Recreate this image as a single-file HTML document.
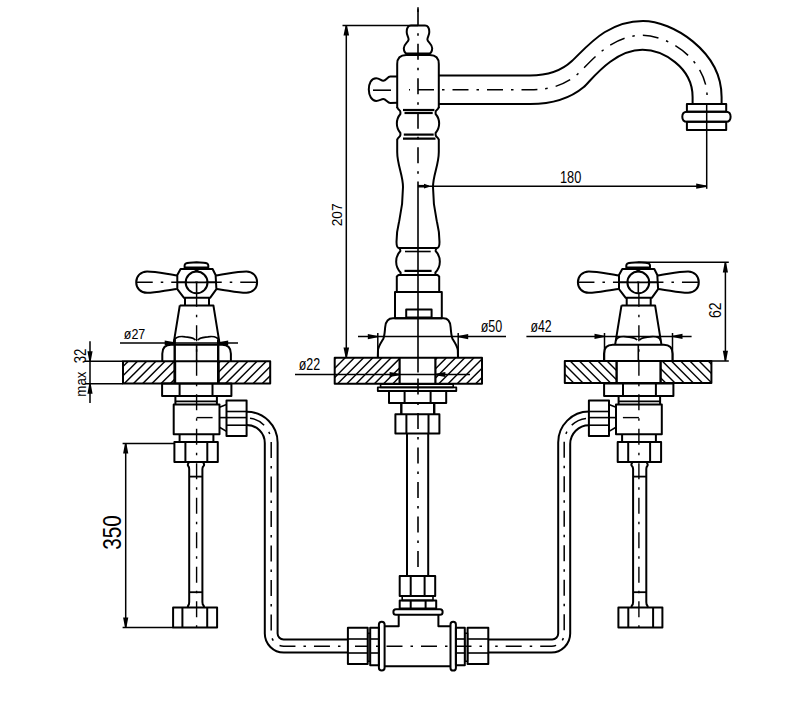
<!DOCTYPE html>
<html><head><meta charset="utf-8"><style>
html,body{margin:0;padding:0;background:#fff;}
svg{display:block;}
text{font-family:"Liberation Sans",sans-serif;fill:#000;stroke:none;}
</style></head><body>
<svg width="800" height="709" viewBox="0 0 800 709" stroke="#000" stroke-linecap="butt" stroke-linejoin="round" fill="none">
<rect x="0" y="0" width="800" height="709" fill="#fff" stroke="none"/>
<path d="M411,25.4 L425,25.4 C428,25.4 429.3,28.5 429.3,32 C429.3,35.5 427.4,37 427.4,39.5 C427.4,42 432.2,44 432.2,48.3 C432.2,51.5 430.5,53.6 429.3,53.6 L406.7,53.6 C405.5,53.6 403.8,51.5 403.8,48.3 C403.8,44 408.6,42 408.6,39.5 C408.6,37 406.7,35.5 406.7,32 C406.7,28.5 408,25.4 411,25.4 Z" stroke-width="2.0" fill="none" />
<path d="M397.2,108 L397.2,64 Q397.2,55 406.2,55 L429.8,55 Q438.8,55 438.8,64 L438.8,108" stroke-width="2.0" fill="none" />
<path d="M397.2,107 C397.2,109.5 400.4,110 400.4,112 L400.4,114 A14.5,14.5 0 0 0 400.4,133 L400.4,135 C400.4,137 397.2,137.5 397.2,140" stroke-width="2.0" fill="none" />
<path d="M438.8,107 C438.8,109.5 435.6,110 435.6,112 L435.6,114 A14.5,14.5 0 0 1 435.6,133 L435.6,135 C435.6,137 438.8,137.5 438.8,140" stroke-width="2.0" fill="none" />
<line x1="403" y1="110" x2="434.4" y2="110" stroke-width="2.2" />
<line x1="404.5" y1="113" x2="432.7" y2="113" stroke-width="2.2" />
<line x1="403.8" y1="134.6" x2="433.7" y2="134.6" stroke-width="2.2" />
<line x1="403" y1="138.6" x2="435.5" y2="138.6" stroke-width="2.2" />
<path d="M397.2,139.5 L397.2,152 C397.2,165 403.0,175 403.0,187 C403.0,205 400.5,215 399.0,222 C397.0,230 396.5,236 396.5,242 Q396.5,248 399.0,248" stroke-width="2.0" fill="none" />
<path d="M438.8,139.5 L438.8,152 C438.8,165 433.0,175 433.0,187 C433.0,205 435.5,215 437.0,222 C439.0,230 439.5,236 439.5,242 Q439.5,248 437.0,248" stroke-width="2.0" fill="none" />
<line x1="398.5" y1="248" x2="437.5" y2="248" stroke-width="2.2" />
<path d="M399.0,248 C400.2,248.5 400.4,249.5 400.4,251 A15.5,15.5 0 0 0 400.6,272.5 L400.6,275" stroke-width="2.0" fill="none" />
<path d="M437.0,248 C435.8,248.5 435.6,249.5 435.6,251 A15.5,15.5 0 0 1 435.4,272.5 L435.4,275" stroke-width="2.0" fill="none" />
<line x1="405" y1="251.5" x2="430.7" y2="251.5" stroke-width="1.6" />
<line x1="404.5" y1="270.9" x2="431.6" y2="270.9" stroke-width="2.2" />
<path d="M398.5,275 L396.8,276.5 L396.8,292 L439.2,292 L439.2,276.5 L437.5,275 Z" stroke-width="2.0" fill="none" />
<rect x="395" y="292" width="46.8" height="26.2" stroke-width="2.0" fill="none" />
<rect x="406.2" y="309.6" width="25.4" height="7.8" stroke-width="2.0" fill="none" />
<path d="M377.8,357.6 L378,350 C378.5,346 381.5,342 383.2,339 C384.6,336 384.6,333 385.2,327 Q386,318.2 393,318.2 L443.5,318.2 Q450,318.2 450.6,327 C451.2,333 451.2,336 452.6,339 C454.3,342 457.3,346 457.8,350 L458,357.6" stroke-width="2.0" fill="none" />
<line x1="418.0" y1="7.2" x2="418.0" y2="12" stroke-width="1.6" />
<line x1="418.0" y1="9.25" x2="418.0" y2="181.5" stroke-width="1.6" stroke-dasharray="16 8 2.5 8" stroke-dashoffset="0"/>
<line x1="418.0" y1="181.5" x2="418.0" y2="372.5" stroke-width="1.6" />
<line x1="418.0" y1="378.5" x2="418.0" y2="576" stroke-width="1.6" stroke-dasharray="16 8 2.5 8" stroke-dashoffset="0"/>
<path d="M397.2,76.6 L390.3,76.6 C387.5,76.6 386,80.8 383.3,80.8 C381,80.8 379.5,78.3 376.2,78.3 C371,78.3 368.8,84 368.8,89.6 C368.8,96 372,100.9 376.2,100.9 C379.5,100.9 381,99.1 383.3,99.1 C386,99.1 387.5,103 390.3,103 L397.2,102.7" stroke-width="2.0" fill="none" />
<line x1="373" y1="90.2" x2="391" y2="90.2" stroke-width="1.6" />
<path d="M438.8,75.6 L530,75.6 C539.7,75.6 557.4,74.8 571.9,61.1 C587,46.9 606.8,20.9 643,20.9 C671.7,20.9 721.6,50.8 721.6,97 L721.6,104" stroke-width="2.0" fill="none" />
<path d="M438.8,104 L530,104 C538.3,104 563.3,104.2 583.8,87 C590.4,81.4 612.8,49.8 642.5,49.8 C662.4,49.8 692.6,66.9 692.6,97 L692.6,104" stroke-width="2.0" fill="none" />
<path d="M409,89.8 L530,89.8 C539,89.8 560.3,89.5 577.8,74 C588.7,64.2 609.8,35.3 642.7,35.3 C667,35.3 707.1,58.8 707.1,97 L707.1,104" stroke-width="1.5" fill="none" stroke-dasharray="16 8 2.5 8" stroke-dashoffset="-9"/>
<rect x="686.9" y="104" width="39.3" height="7.7" stroke-width="2.0" fill="none" />
<path d="M686.9,111.7 L726.2,111.7 Q730.6,111.7 730.6,116.75 Q730.6,121.8 726.2,121.8 L686.9,121.8 Q682.3,121.8 682.3,116.75 Q682.3,111.7 686.9,111.7 Z" stroke-width="2.0" fill="none" />
<rect x="686.9" y="121.8" width="39.3" height="8.2" stroke-width="2.0" fill="none" />
<line x1="706.7" y1="104" x2="706.7" y2="188.8" stroke-width="1.5" />
<line x1="342.5" y1="25.4" x2="418" y2="25.4" stroke-width="1.5" />
<line x1="346.3" y1="25.4" x2="346.3" y2="357.8" stroke-width="1.5" />
<path d="M347.00,25.60 L349.10,35.60 L343.50,35.60 L345.60,25.60 Z" fill="#000" stroke="none"/>
<path d="M345.60,357.60 L343.50,347.60 L349.10,347.60 L347.00,357.60 Z" fill="#000" stroke="none"/>
<text x="0" y="0" font-size="15.49" transform="translate(341.85,226.29) rotate(-90) scale(0.888,1)">207</text>
<line x1="418" y1="186.2" x2="706.2" y2="186.2" stroke-width="1.5" />
<line x1="418" y1="186.2" x2="426" y2="186.2" stroke-width="2.6" />
<path d="M429.00,186.90 L424.00,188.60 L424.00,183.80 L429.00,185.50 Z" fill="#000" stroke="none"/>
<path d="M706.20,186.90 L696.20,188.80 L696.20,183.60 L706.20,185.50 Z" fill="#000" stroke="none"/>
<text x="0" y="0" font-size="16.34" transform="translate(559.94,182.54) scale(0.783,1)">180</text>
<line x1="358" y1="336.6" x2="506" y2="336.6" stroke-width="1.5" />
<line x1="377.8" y1="333" x2="377.8" y2="357.6" stroke-width="1.5" />
<line x1="458.2" y1="333" x2="458.2" y2="357.6" stroke-width="1.5" />
<path d="M377.80,337.30 L367.80,339.20 L367.80,334.00 L377.80,335.90 Z" fill="#000" stroke="none"/>
<path d="M458.20,335.90 L468.20,334.00 L468.20,339.20 L458.20,337.30 Z" fill="#000" stroke="none"/>
<text x="0" y="0" font-size="15.83" transform="translate(480.69,331.98) scale(0.791,1)">ø50</text>
<line x1="295" y1="374.5" x2="470" y2="374.5" stroke-width="1.5" />
<path d="M399.60,375.20 L389.60,377.10 L389.60,371.90 L399.60,373.80 Z" fill="#000" stroke="none"/>
<path d="M435.40,373.80 L445.40,371.90 L445.40,377.10 L435.40,375.20 Z" fill="#000" stroke="none"/>
<text x="0" y="0" font-size="17.22" transform="translate(298.69,370.26) scale(0.725,1)">ø22</text>
<clipPath id="c52"><rect x="334.7" y="357.8" width="64.90000000000003" height="26.0"/></clipPath>
<g clip-path="url(#c52)">
<line x1="317.60" y1="357.8" x2="291.60" y2="383.8" stroke-width="1.4"/>
<line x1="326.80" y1="357.8" x2="300.80" y2="383.8" stroke-width="1.4"/>
<line x1="336.00" y1="357.8" x2="310.00" y2="383.8" stroke-width="1.4"/>
<line x1="345.20" y1="357.8" x2="319.20" y2="383.8" stroke-width="1.4"/>
<line x1="354.40" y1="357.8" x2="328.40" y2="383.8" stroke-width="1.4"/>
<line x1="363.60" y1="357.8" x2="337.60" y2="383.8" stroke-width="1.4"/>
<line x1="372.80" y1="357.8" x2="346.80" y2="383.8" stroke-width="1.4"/>
<line x1="382.00" y1="357.8" x2="356.00" y2="383.8" stroke-width="1.4"/>
<line x1="391.20" y1="357.8" x2="365.20" y2="383.8" stroke-width="1.4"/>
<line x1="400.40" y1="357.8" x2="374.40" y2="383.8" stroke-width="1.4"/>
<line x1="409.60" y1="357.8" x2="383.60" y2="383.8" stroke-width="1.4"/>
<line x1="418.80" y1="357.8" x2="392.80" y2="383.8" stroke-width="1.4"/>
<line x1="428.00" y1="357.8" x2="402.00" y2="383.8" stroke-width="1.4"/>
</g>
<clipPath id="c68"><rect x="435.4" y="357.8" width="46.60000000000002" height="26.0"/></clipPath>
<g clip-path="url(#c68)">
<line x1="345.20" y1="357.8" x2="319.20" y2="383.8" stroke-width="1.4"/>
<line x1="354.40" y1="357.8" x2="328.40" y2="383.8" stroke-width="1.4"/>
<line x1="363.60" y1="357.8" x2="337.60" y2="383.8" stroke-width="1.4"/>
<line x1="372.80" y1="357.8" x2="346.80" y2="383.8" stroke-width="1.4"/>
<line x1="382.00" y1="357.8" x2="356.00" y2="383.8" stroke-width="1.4"/>
<line x1="391.20" y1="357.8" x2="365.20" y2="383.8" stroke-width="1.4"/>
<line x1="400.40" y1="357.8" x2="374.40" y2="383.8" stroke-width="1.4"/>
<line x1="409.60" y1="357.8" x2="383.60" y2="383.8" stroke-width="1.4"/>
<line x1="418.80" y1="357.8" x2="392.80" y2="383.8" stroke-width="1.4"/>
<line x1="428.00" y1="357.8" x2="402.00" y2="383.8" stroke-width="1.4"/>
<line x1="437.20" y1="357.8" x2="411.20" y2="383.8" stroke-width="1.4"/>
<line x1="446.40" y1="357.8" x2="420.40" y2="383.8" stroke-width="1.4"/>
<line x1="455.60" y1="357.8" x2="429.60" y2="383.8" stroke-width="1.4"/>
<line x1="464.80" y1="357.8" x2="438.80" y2="383.8" stroke-width="1.4"/>
<line x1="474.00" y1="357.8" x2="448.00" y2="383.8" stroke-width="1.4"/>
<line x1="483.20" y1="357.8" x2="457.20" y2="383.8" stroke-width="1.4"/>
<line x1="492.40" y1="357.8" x2="466.40" y2="383.8" stroke-width="1.4"/>
<line x1="501.60" y1="357.8" x2="475.60" y2="383.8" stroke-width="1.4"/>
<line x1="510.80" y1="357.8" x2="484.80" y2="383.8" stroke-width="1.4"/>
</g>
<rect x="334.7" y="357.8" width="147.3" height="26" stroke-width="2.0" fill="none" />
<line x1="399.6" y1="357.8" x2="399.6" y2="383.8" stroke-width="2.2" />
<line x1="435.4" y1="357.8" x2="435.4" y2="383.8" stroke-width="2.2" />
<clipPath id="c93"><rect x="123" y="361.2" width="52" height="22.400000000000034"/></clipPath>
<g clip-path="url(#c93)">
<line x1="109.90" y1="361.2" x2="87.50" y2="383.6" stroke-width="1.4"/>
<line x1="119.10" y1="361.2" x2="96.70" y2="383.6" stroke-width="1.4"/>
<line x1="128.30" y1="361.2" x2="105.90" y2="383.6" stroke-width="1.4"/>
<line x1="137.50" y1="361.2" x2="115.10" y2="383.6" stroke-width="1.4"/>
<line x1="146.70" y1="361.2" x2="124.30" y2="383.6" stroke-width="1.4"/>
<line x1="155.90" y1="361.2" x2="133.50" y2="383.6" stroke-width="1.4"/>
<line x1="165.10" y1="361.2" x2="142.70" y2="383.6" stroke-width="1.4"/>
<line x1="174.30" y1="361.2" x2="151.90" y2="383.6" stroke-width="1.4"/>
<line x1="183.50" y1="361.2" x2="161.10" y2="383.6" stroke-width="1.4"/>
<line x1="192.70" y1="361.2" x2="170.30" y2="383.6" stroke-width="1.4"/>
<line x1="201.90" y1="361.2" x2="179.50" y2="383.6" stroke-width="1.4"/>
</g>
<clipPath id="c107"><rect x="218.4" y="361.2" width="51.79999999999998" height="22.400000000000034"/></clipPath>
<g clip-path="url(#c107)">
<line x1="137.50" y1="361.2" x2="115.10" y2="383.6" stroke-width="1.4"/>
<line x1="146.70" y1="361.2" x2="124.30" y2="383.6" stroke-width="1.4"/>
<line x1="155.90" y1="361.2" x2="133.50" y2="383.6" stroke-width="1.4"/>
<line x1="165.10" y1="361.2" x2="142.70" y2="383.6" stroke-width="1.4"/>
<line x1="174.30" y1="361.2" x2="151.90" y2="383.6" stroke-width="1.4"/>
<line x1="183.50" y1="361.2" x2="161.10" y2="383.6" stroke-width="1.4"/>
<line x1="192.70" y1="361.2" x2="170.30" y2="383.6" stroke-width="1.4"/>
<line x1="201.90" y1="361.2" x2="179.50" y2="383.6" stroke-width="1.4"/>
<line x1="211.10" y1="361.2" x2="188.70" y2="383.6" stroke-width="1.4"/>
<line x1="220.30" y1="361.2" x2="197.90" y2="383.6" stroke-width="1.4"/>
<line x1="229.50" y1="361.2" x2="207.10" y2="383.6" stroke-width="1.4"/>
<line x1="238.70" y1="361.2" x2="216.30" y2="383.6" stroke-width="1.4"/>
<line x1="247.90" y1="361.2" x2="225.50" y2="383.6" stroke-width="1.4"/>
<line x1="257.10" y1="361.2" x2="234.70" y2="383.6" stroke-width="1.4"/>
<line x1="266.30" y1="361.2" x2="243.90" y2="383.6" stroke-width="1.4"/>
<line x1="275.50" y1="361.2" x2="253.10" y2="383.6" stroke-width="1.4"/>
<line x1="284.70" y1="361.2" x2="262.30" y2="383.6" stroke-width="1.4"/>
<line x1="293.90" y1="361.2" x2="271.50" y2="383.6" stroke-width="1.4"/>
</g>
<rect x="123" y="361.2" width="147.2" height="22.4" stroke-width="2.0" fill="none" />
<line x1="175" y1="361.2" x2="175" y2="383.6" stroke-width="2.4" />
<line x1="218.4" y1="361.2" x2="218.4" y2="383.6" stroke-width="2.4" />
<clipPath id="c131"><rect x="564.8" y="361" width="51.80000000000007" height="22"/></clipPath>
<g clip-path="url(#c131)">
<line x1="533.40" y1="361" x2="555.40" y2="383" stroke-width="1.4"/>
<line x1="542.60" y1="361" x2="564.60" y2="383" stroke-width="1.4"/>
<line x1="551.80" y1="361" x2="573.80" y2="383" stroke-width="1.4"/>
<line x1="561.00" y1="361" x2="583.00" y2="383" stroke-width="1.4"/>
<line x1="570.20" y1="361" x2="592.20" y2="383" stroke-width="1.4"/>
<line x1="579.40" y1="361" x2="601.40" y2="383" stroke-width="1.4"/>
<line x1="588.60" y1="361" x2="610.60" y2="383" stroke-width="1.4"/>
<line x1="597.80" y1="361" x2="619.80" y2="383" stroke-width="1.4"/>
<line x1="607.00" y1="361" x2="629.00" y2="383" stroke-width="1.4"/>
<line x1="616.20" y1="361" x2="638.20" y2="383" stroke-width="1.4"/>
<line x1="625.40" y1="361" x2="647.40" y2="383" stroke-width="1.4"/>
</g>
<clipPath id="c145"><rect x="660.6" y="361" width="50.799999999999955" height="22"/></clipPath>
<g clip-path="url(#c145)">
<line x1="561.00" y1="361" x2="583.00" y2="383" stroke-width="1.4"/>
<line x1="570.20" y1="361" x2="592.20" y2="383" stroke-width="1.4"/>
<line x1="579.40" y1="361" x2="601.40" y2="383" stroke-width="1.4"/>
<line x1="588.60" y1="361" x2="610.60" y2="383" stroke-width="1.4"/>
<line x1="597.80" y1="361" x2="619.80" y2="383" stroke-width="1.4"/>
<line x1="607.00" y1="361" x2="629.00" y2="383" stroke-width="1.4"/>
<line x1="616.20" y1="361" x2="638.20" y2="383" stroke-width="1.4"/>
<line x1="625.40" y1="361" x2="647.40" y2="383" stroke-width="1.4"/>
<line x1="634.60" y1="361" x2="656.60" y2="383" stroke-width="1.4"/>
<line x1="643.80" y1="361" x2="665.80" y2="383" stroke-width="1.4"/>
<line x1="653.00" y1="361" x2="675.00" y2="383" stroke-width="1.4"/>
<line x1="662.20" y1="361" x2="684.20" y2="383" stroke-width="1.4"/>
<line x1="671.40" y1="361" x2="693.40" y2="383" stroke-width="1.4"/>
<line x1="680.60" y1="361" x2="702.60" y2="383" stroke-width="1.4"/>
<line x1="689.80" y1="361" x2="711.80" y2="383" stroke-width="1.4"/>
<line x1="699.00" y1="361" x2="721.00" y2="383" stroke-width="1.4"/>
<line x1="708.20" y1="361" x2="730.20" y2="383" stroke-width="1.4"/>
<line x1="717.40" y1="361" x2="739.40" y2="383" stroke-width="1.4"/>
</g>
<rect x="564.8" y="361" width="146.6" height="22" stroke-width="2.0" fill="none" />
<line x1="616.6" y1="361" x2="616.6" y2="383" stroke-width="2.4" />
<line x1="660.6" y1="361" x2="660.6" y2="383" stroke-width="2.4" />
<g transform="translate(196.6,0) scale(1,1)">
<path d="M-12,267.6 L-12,265.5 Q-12,263 -7,262.8 Q-3,262.6 0,262.2 Q3,262.6 7,262.8 Q11.7,263 11.7,265.5 L11.7,267.6 Z" stroke-width="2.0" fill="none" />
<path d="M-3.5,268 L3.5,268 L0,272.2 Z" stroke-width="0.8" fill="#000" />
<path d="M-16,269 L16,269 L19,275 L19.8,289.1 L13.5,297.8 L-12.6,297.8 L-19.3,289.1 L-19.3,275 Z" stroke-width="2.0" fill="none" />
<circle cx="0" cy="282.4" r="10.9" stroke-width="2" fill="none"/>
<line x1="-19.3" y1="282.4" x2="19.8" y2="282.4" stroke-width="1.6" />
<line x1="0" y1="282.4" x2="0" y2="292.7" stroke-width="1.6" />
<path d="M-19.3,275.4 C-30,274 -40,271.4 -49.5,271.4 C-56,271.4 -60.4,276.5 -60.4,282.2 C-60.4,288 -56,292.8 -49.5,292.8 C-40,292.8 -30,290 -19.8,289" stroke-width="2.0" fill="none" />
<path d="M19.3,275.4 C30,274 40,271.4 49.8,271.4 C56.3,271.4 60.5,276.5 60.5,282.2 C60.5,288 56.3,292.8 49.8,292.8 C40,292.8 30,290 19.8,289" stroke-width="2.0" fill="none" />
<line x1="-59.85" y1="282.3" x2="59.8" y2="282.3" stroke-width="1.4" stroke-dasharray="16 8 2.5 8" stroke-dashoffset="0"/>
<path d="M-11.6,297.8 L-11.6,305.4 M12.4,297.8 L12.4,305.4" stroke-width="2.0" fill="none" />
<path d="M-16.8,305.4 L16.8,305.4 L23.2,344.8 M-16.8,305.4 L-23.2,344.8" stroke-width="2.0" fill="none" />
<path d="M-22.4,340.6 C-21,336.5 -15,336.2 -11.3,336.8 C-6,337.5 -2.5,337.5 -1.2,340.2 M1.2,340.2 C2.5,337.5 6,337.5 11.3,336.8 C15,336.2 21,336.5 22.4,340.6" stroke-width="1.8" fill="none" />
<path d="M-34.3,361.2 L-34.3,353.8 Q-34.3,344.8 -25.5,344.8 L25.5,344.8 Q34.3,344.8 34.3,353.8 L34.3,361.2" stroke-width="2.0" fill="none" />
<line x1="0" y1="344.8" x2="0" y2="361" stroke-width="1.6" />
<line x1="-21.9" y1="339.5" x2="-21.9" y2="383.6" stroke-width="2.4" />
<line x1="21.6" y1="339.5" x2="21.6" y2="383.6" stroke-width="2.4" />
</g>
<g transform="translate(638.3,0) scale(1,1)">
<path d="M-12,267.6 L-12,265.5 Q-12,263 -7,262.8 Q-3,262.6 0,262.2 Q3,262.6 7,262.8 Q11.7,263 11.7,265.5 L11.7,267.6 Z" stroke-width="2.0" fill="none" />
<path d="M-3.5,268 L3.5,268 L0,272.2 Z" stroke-width="0.8" fill="#000" />
<path d="M-16,269 L16,269 L19,275 L19.8,289.1 L13.5,297.8 L-12.6,297.8 L-19.3,289.1 L-19.3,275 Z" stroke-width="2.0" fill="none" />
<circle cx="0" cy="282.4" r="10.9" stroke-width="2" fill="none"/>
<line x1="-19.3" y1="282.4" x2="19.8" y2="282.4" stroke-width="1.6" />
<line x1="0" y1="282.4" x2="0" y2="292.7" stroke-width="1.6" />
<path d="M-19.3,275.4 C-30,274 -40,271.4 -49.5,271.4 C-56,271.4 -60.4,276.5 -60.4,282.2 C-60.4,288 -56,292.8 -49.5,292.8 C-40,292.8 -30,290 -19.8,289" stroke-width="2.0" fill="none" />
<path d="M19.3,275.4 C30,274 40,271.4 49.8,271.4 C56.3,271.4 60.5,276.5 60.5,282.2 C60.5,288 56.3,292.8 49.8,292.8 C40,292.8 30,290 19.8,289" stroke-width="2.0" fill="none" />
<line x1="-59.85" y1="282.3" x2="59.8" y2="282.3" stroke-width="1.4" stroke-dasharray="16 8 2.5 8" stroke-dashoffset="0"/>
<path d="M-11.6,297.8 L-11.6,305.4 M12.4,297.8 L12.4,305.4" stroke-width="2.0" fill="none" />
<path d="M-16.8,305.4 L16.8,305.4 L23.2,344.8 M-16.8,305.4 L-23.2,344.8" stroke-width="2.0" fill="none" />
<path d="M-22.4,340.6 C-21,336.5 -15,336.2 -11.3,336.8 C-6,337.5 -2.5,337.5 -1.2,340.2 M1.2,340.2 C2.5,337.5 6,337.5 11.3,336.8 C15,336.2 21,336.5 22.4,340.6" stroke-width="1.8" fill="none" />
<path d="M-34.3,361.2 L-34.3,353.8 Q-34.3,344.8 -25.5,344.8 L25.5,344.8 Q34.3,344.8 34.3,353.8 L34.3,361.2" stroke-width="2.0" fill="none" />
<line x1="0" y1="344.8" x2="0" y2="361" stroke-width="1.6" />
</g>
<g transform="translate(196.6,0) scale(1,1)">
<rect x="-34.5" y="383.6" width="69.3" height="12.5" stroke-width="2.0" fill="none" />
<line x1="-17" y1="383.6" x2="-17" y2="396.1" stroke-width="2.0" />
<line x1="15.9" y1="383.6" x2="15.9" y2="396.1" stroke-width="2.0" />
<path d="M-21.2,396.1 L-21.2,404.5 M20.3,396.1 L20.3,404.5" stroke-width="2.0" fill="none" />
<line x1="-21.2" y1="401.4" x2="20.3" y2="401.4" stroke-width="1.6" />
<rect x="-22.9" y="404.5" width="45.8" height="29.8" stroke-width="2.0" fill="none" />
<path d="M22.9,407.2 L29.9,404.6 M22.9,427.3 L29.9,431.4" stroke-width="1.6" fill="none" />
<rect x="29.9" y="400.6" width="20.1" height="35.4" stroke-width="2.0" fill="none" />
<line x1="29.9" y1="411.5" x2="50" y2="411.5" stroke-width="1.6" />
<line x1="29.9" y1="425.2" x2="50" y2="425.2" stroke-width="1.6" />
<line x1="0" y1="417.6" x2="22.9" y2="417.6" stroke-width="1.4" stroke-dasharray="16 8 2.5 8" stroke-dashoffset="0"/>
<line x1="22.9" y1="417.6" x2="50" y2="417.6" stroke-width="1.6" />
<path d="M-17,434.3 L-17,442.1 M16.8,434.3 L16.8,442.1" stroke-width="2.0" fill="none" />
<rect x="-22.2" y="442.1" width="43.4" height="19.8" stroke-width="2.0" fill="none" />
<line x1="-11.2" y1="442.1" x2="-11.2" y2="461.9" stroke-width="2.0" />
<line x1="10.7" y1="442.1" x2="10.7" y2="461.9" stroke-width="2.0" />
<path d="M-7.8,462.6 Q-9.4,464.5 -8.4,466 Q-7.4,467 -7.4,469 L-7.4,602 Q-7.4,604.5 -8.4,605.5 Q-9.2,606.5 -8.2,607.4 M6.6,462.6 Q8.2,464.5 7.0,466 Q5.8,467 5.8,469 L5.8,602 Q5.8,604.5 7.0,605.5 Q7.8,606.5 6.8,607.4" stroke-width="2.0" fill="none" />
<line x1="-7.4" y1="476.6" x2="5.8" y2="476.6" stroke-width="1.8" />
<line x1="-7.4" y1="592.2" x2="5.8" y2="592.2" stroke-width="1.8" />
<rect x="-23.5" y="607.4" width="44" height="20.2" stroke-width="2.0" fill="none" />
<line x1="-14.2" y1="607.4" x2="-14.2" y2="627.6" stroke-width="2.0" />
<line x1="10.6" y1="607.4" x2="10.6" y2="627.6" stroke-width="2.0" />
<line x1="0" y1="292.7" x2="0" y2="630" stroke-width="1.4" stroke-dasharray="16 8 2.5 8" stroke-dashoffset="2"/>
</g>
<g transform="translate(638.9,0) scale(-1,1)">
<rect x="-34.5" y="383.6" width="69.3" height="12.5" stroke-width="2.0" fill="none" />
<line x1="-17" y1="383.6" x2="-17" y2="396.1" stroke-width="2.0" />
<line x1="15.9" y1="383.6" x2="15.9" y2="396.1" stroke-width="2.0" />
<path d="M-21.2,396.1 L-21.2,404.5 M20.3,396.1 L20.3,404.5" stroke-width="2.0" fill="none" />
<line x1="-21.2" y1="401.4" x2="20.3" y2="401.4" stroke-width="1.6" />
<rect x="-22.9" y="404.5" width="45.8" height="29.8" stroke-width="2.0" fill="none" />
<path d="M22.9,407.2 L29.9,404.6 M22.9,427.3 L29.9,431.4" stroke-width="1.6" fill="none" />
<rect x="29.9" y="400.6" width="20.1" height="35.4" stroke-width="2.0" fill="none" />
<line x1="29.9" y1="411.5" x2="50" y2="411.5" stroke-width="1.6" />
<line x1="29.9" y1="425.2" x2="50" y2="425.2" stroke-width="1.6" />
<line x1="0" y1="417.6" x2="22.9" y2="417.6" stroke-width="1.4" stroke-dasharray="16 8 2.5 8" stroke-dashoffset="0"/>
<line x1="22.9" y1="417.6" x2="50" y2="417.6" stroke-width="1.6" />
<path d="M-17,434.3 L-17,442.1 M16.8,434.3 L16.8,442.1" stroke-width="2.0" fill="none" />
<rect x="-22.2" y="442.1" width="43.4" height="19.8" stroke-width="2.0" fill="none" />
<line x1="-11.2" y1="442.1" x2="-11.2" y2="461.9" stroke-width="2.0" />
<line x1="10.7" y1="442.1" x2="10.7" y2="461.9" stroke-width="2.0" />
<path d="M-7.8,462.6 Q-9.4,464.5 -8.4,466 Q-7.4,467 -7.4,469 L-7.4,602 Q-7.4,604.5 -8.4,605.5 Q-9.2,606.5 -8.2,607.4 M6.6,462.6 Q8.2,464.5 7.0,466 Q5.8,467 5.8,469 L5.8,602 Q5.8,604.5 7.0,605.5 Q7.8,606.5 6.8,607.4" stroke-width="2.0" fill="none" />
<line x1="-7.4" y1="476.6" x2="5.8" y2="476.6" stroke-width="1.8" />
<line x1="-7.4" y1="592.2" x2="5.8" y2="592.2" stroke-width="1.8" />
<rect x="-23.5" y="607.4" width="44" height="20.2" stroke-width="2.0" fill="none" />
<line x1="-14.2" y1="607.4" x2="-14.2" y2="627.6" stroke-width="2.0" />
<line x1="10.6" y1="607.4" x2="10.6" y2="627.6" stroke-width="2.0" />
<line x1="0" y1="292.7" x2="0" y2="630" stroke-width="1.4" stroke-dasharray="16 8 2.5 8" stroke-dashoffset="2"/>
</g>
<line x1="120" y1="343" x2="238" y2="343" stroke-width="1.5" />
<path d="M174.70,343.70 L164.70,345.60 L164.70,340.40 L174.70,342.30 Z" fill="#000" stroke="none"/>
<path d="M218.20,342.30 L228.20,340.40 L228.20,345.60 L218.20,343.70 Z" fill="#000" stroke="none"/>
<text x="0" y="0" font-size="15.42" transform="translate(123.79,338.69) scale(0.810,1)">ø27</text>
<line x1="526.4" y1="336.4" x2="691.6" y2="336.4" stroke-width="1.5" />
<line x1="604.5" y1="333" x2="604.5" y2="361" stroke-width="1.5" />
<line x1="672.5" y1="333" x2="672.5" y2="361" stroke-width="1.5" />
<path d="M604.50,337.10 L594.50,339.00 L594.50,333.80 L604.50,335.70 Z" fill="#000" stroke="none"/>
<path d="M672.50,335.70 L682.50,333.80 L682.50,339.00 L672.50,337.10 Z" fill="#000" stroke="none"/>
<text x="0" y="0" font-size="15.83" transform="translate(530.39,331.98) scale(0.777,1)">ø42</text>
<line x1="638.3" y1="262.3" x2="728.8" y2="262.3" stroke-width="1.5" />
<line x1="711.4" y1="361" x2="728.8" y2="361" stroke-width="1.5" />
<line x1="725.4" y1="262.4" x2="725.4" y2="361" stroke-width="1.5" />
<path d="M726.10,262.60 L728.00,272.60 L722.80,272.60 L724.70,262.60 Z" fill="#000" stroke="none"/>
<path d="M724.70,360.80 L722.80,350.80 L728.00,350.80 L726.10,360.80 Z" fill="#000" stroke="none"/>
<text x="0" y="0" font-size="16.62" transform="translate(720.63,318.00) rotate(-90) scale(0.846,1)">62</text>
<line x1="85" y1="361.2" x2="123" y2="361.2" stroke-width="1.5" />
<line x1="85" y1="383.7" x2="123" y2="383.7" stroke-width="1.5" />
<line x1="90" y1="341.2" x2="90" y2="403" stroke-width="1.5" />
<path d="M89.30,361.20 L87.40,351.20 L92.60,351.20 L90.70,361.20 Z" fill="#000" stroke="none"/>
<path d="M90.70,383.70 L92.60,393.70 L87.40,393.70 L89.30,383.70 Z" fill="#000" stroke="none"/>
<text x="0" y="0" font-size="16.76" transform="translate(86.03,363.33) rotate(-90) scale(0.790,1)">32</text>
<text x="0" y="0" font-size="15.45" transform="translate(86.05,396.67) rotate(-90) scale(0.862,1)">max</text>
<line x1="122.6" y1="443.4" x2="174.4" y2="443.4" stroke-width="1.5" />
<line x1="122.6" y1="627.6" x2="173.1" y2="627.6" stroke-width="1.5" />
<line x1="125.7" y1="443.4" x2="125.7" y2="627.6" stroke-width="1.5" />
<path d="M126.40,443.60 L128.30,453.60 L123.10,453.60 L125.00,443.60 Z" fill="#000" stroke="none"/>
<path d="M125.00,627.40 L123.10,617.40 L128.30,617.40 L126.40,627.40 Z" fill="#000" stroke="none"/>
<text x="0" y="0" font-size="24.93" transform="translate(121.45,549.83) rotate(-90) scale(0.830,1)">350</text>
<path d="M246.8,411.8 A30.8,30.8 0 0 1 277.6,442.6 L277.6,633.5 A6,6 0 0 0 283.6,639.5 L347.9,639.5" stroke-width="2.0" fill="none" />
<path d="M246.8,425 A18,18 0 0 1 264.8,443 L264.8,633.5 A19,19 0 0 0 283.8,652.5 L347.9,652.5" stroke-width="2.0" fill="none" />
<path d="M250,418.2 A24.4,24.4 0 0 1 271.2,442.6 L271.2,633.5 A12.5,12.5 0 0 0 283.7,646.2 L347.9,646.2" stroke-width="1.5" fill="none" stroke-dasharray="16 8 2.5 8" stroke-dashoffset="0"/>
<path d="M589,411.6 A30.8,30.8 0 0 0 558.2,442.4 L558.2,633.5 A6,6 0 0 1 552.2,639.5 L488.3,639.5" stroke-width="2.0" fill="none" />
<path d="M589,425.3 A18.8,18.8 0 0 0 570.2,444.1 L570.2,633.5 A19,19 0 0 1 551.2,652.5 L488.3,652.5" stroke-width="2.0" fill="none" />
<path d="M586,418.4 A24.6,24.6 0 0 0 564.2,443 L564.2,633.5 A12.5,12.5 0 0 1 551.7,646.2 L488.3,646.2" stroke-width="1.5" fill="none" stroke-dasharray="16 8 2.5 8" stroke-dashoffset="0"/>
<rect x="399.7" y="576" width="35.5" height="20.1" stroke-width="2.0" fill="none" />
<line x1="410.7" y1="576" x2="410.7" y2="596.1" stroke-width="2.0" />
<line x1="424.6" y1="576" x2="424.6" y2="596.1" stroke-width="2.0" />
<rect x="402.2" y="596.1" width="30.8" height="4.3" stroke-width="1.6" fill="none" />
<rect x="399.7" y="600.4" width="36.5" height="8.2" stroke-width="2.0" fill="none" />
<line x1="410.7" y1="600.4" x2="410.7" y2="608.6" stroke-width="2.0" />
<line x1="425.6" y1="600.4" x2="425.6" y2="608.6" stroke-width="2.0" />
<rect x="393.4" y="609.2" width="49.2" height="5.6" rx="2.5" stroke-width="2" fill="none"/>
<path d="M398.7,614.8 L398.7,626.2 L384.6,626.2 M438.4,614.8 L438.4,626.2 L450.5,626.2 M384.6,666.3 L450.5,666.3" stroke-width="2.0" fill="none" />
<rect x="378.9" y="621.8" width="5.7" height="48.8" rx="2.8" stroke-width="2" fill="none"/>
<rect x="450.5" y="621.8" width="5.4" height="48.8" rx="2.7" stroke-width="2" fill="none"/>
<rect x="370.2" y="627.7" width="8.7" height="37.6" stroke-width="2.0" fill="none" />
<line x1="370.2" y1="639" x2="378.9" y2="639" stroke-width="1.6" />
<line x1="370.2" y1="653" x2="378.9" y2="653" stroke-width="1.6" />
<rect x="347.9" y="627.7" width="19.8" height="36.2" stroke-width="2.0" fill="none" />
<line x1="347.9" y1="639" x2="367.7" y2="639" stroke-width="1.6" />
<line x1="347.9" y1="653" x2="367.7" y2="653" stroke-width="1.6" />
<rect x="367.7" y="633.3" width="2.5" height="28" stroke-width="1.4" fill="none" />
<rect x="455.9" y="627.7" width="8.9" height="37.6" stroke-width="2.0" fill="none" />
<line x1="455.9" y1="639" x2="464.8" y2="639" stroke-width="1.6" />
<line x1="455.9" y1="653" x2="464.8" y2="653" stroke-width="1.6" />
<rect x="467.6" y="627.7" width="20.7" height="36.2" stroke-width="2.0" fill="none" />
<line x1="467.6" y1="639" x2="488.3" y2="639" stroke-width="1.6" />
<line x1="467.6" y1="653" x2="488.3" y2="653" stroke-width="1.6" />
<rect x="464.8" y="633.3" width="2.8" height="28" stroke-width="1.4" fill="none" />
<line x1="355" y1="646.3" x2="486" y2="646.3" stroke-width="1.4" stroke-dasharray="16 8 2.5 8" stroke-dashoffset="3"/>
<rect x="380.6" y="384.2" width="72.6" height="3.2" stroke-width="1.6" fill="none" />
<rect x="377.8" y="387.4" width="78.5" height="3.6" stroke-width="1.8" fill="none" />
<rect x="389" y="391" width="57.2" height="11.9" stroke-width="2.0" fill="none" />
<line x1="404.6" y1="391" x2="404.6" y2="402.9" stroke-width="2.0" />
<line x1="430.6" y1="391" x2="430.6" y2="402.9" stroke-width="2.0" />
<path d="M401.3,402.9 L401.3,414.2 M434.2,402.9 L434.2,414.2" stroke-width="2.4" fill="none" />
<rect x="395.4" y="414.2" width="44" height="19.3" stroke-width="2.0" fill="none" />
<line x1="406.4" y1="414.2" x2="406.4" y2="433.5" stroke-width="2.0" />
<line x1="428.5" y1="414.2" x2="428.5" y2="433.5" stroke-width="2.0" />
<path d="M407,433.5 L407,576 M428.2,433.5 L428.2,576" stroke-width="2.0" fill="none" />
</svg></body></html>
